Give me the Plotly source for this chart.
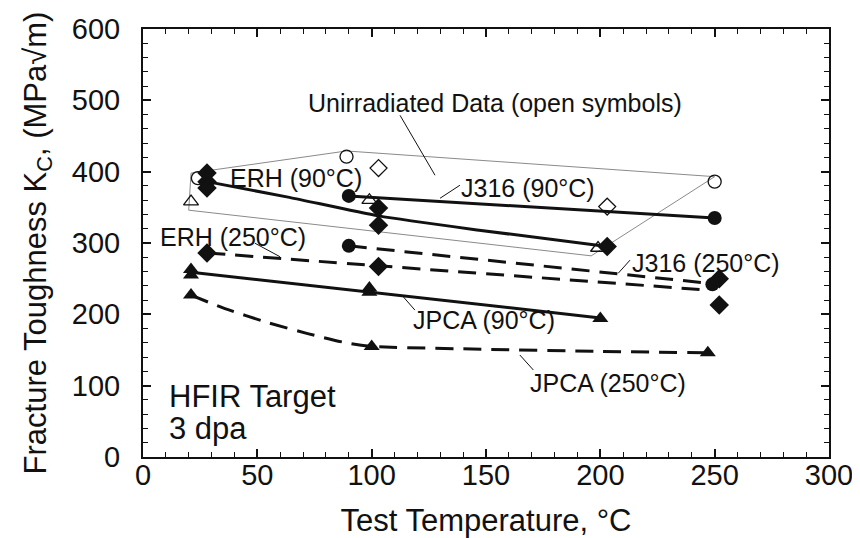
import plotly.graph_objects as go

# ---------------- data ----------------
# ERH (90 C) irradiated, filled diamonds, solid fit
erh90_x = [28, 28, 28, 103, 103, 203]
erh90_y = [398, 386, 377, 349, 325, 295]
erh90_fit_x = [28, 64, 103, 147, 203]
erh90_fit_y = [386, 364, 338, 318, 295]

# J316 (90 C) irradiated, filled circles, solid fit
j316_90_x = [90, 250]
j316_90_y = [366, 335]
j316_90_fit_x = [90, 250]
j316_90_fit_y = [366, 335]

# ERH (250 C) irradiated, filled diamonds, dashed fit
erh250_x = [28, 103, 252, 252]
erh250_y = [286, 267, 250, 213]
erh250_fit_x = [28, 103, 247]
erh250_fit_y = [286, 268, 234]

# J316 (250 C) irradiated, filled circles, dashed fit
j316_250_x = [90, 249]
j316_250_y = [296, 242]
j316_250_fit_x = [90, 249]
j316_250_fit_y = [296, 243]

# JPCA (90 C) irradiated, filled triangles, solid fit
jpca90_x = [21, 21, 99, 99, 200]
jpca90_y = [263, 255, 237, 231, 194]
jpca90_fit_x = [21, 200]
jpca90_fit_y = [259, 195]

# JPCA (250 C) irradiated, filled triangles, dashed fit
jpca250_x = [21, 100, 247]
jpca250_y = [227, 155, 146]
jpca250_fit_x = [21, 35, 55, 72, 89, 100, 150, 200, 247]
jpca250_fit_y = [227, 209, 188, 173, 160, 155, 151, 148, 146]

# Unirradiated data (open symbols)
unirr_circle_x = [24, 89, 250]
unirr_circle_y = [391, 421, 386]
unirr_diamond_x = [103, 203]
unirr_diamond_y = [405, 351]
unirr_triangle_x = [21, 99, 199]
unirr_triangle_y = [358, 360, 293]

# Envelope around unirradiated data
env_x = [21, 89, 250, 196, 20, 21]
env_y = [398, 429, 393, 282, 346, 398]

x_ticks = [0, 50, 100, 150, 200, 250, 300]
y_ticks = [0, 100, 200, 300, 400, 500, 600]

# ---------------- figure ----------------
FONT = "Liberation Sans, Arial, Helvetica, sans-serif"
INK = "#111111"
DASH = "18px,10px"

fig = go.Figure()

# envelope
fig.add_trace(go.Scatter(x=env_x, y=env_y, mode="lines",
                         line=dict(color="#8a8a8a", width=1), hoverinfo="skip"))

def fit(x, y, dash="solid"):
    fig.add_trace(go.Scatter(x=x, y=y, mode="lines",
                             line=dict(color=INK, width=3, dash=dash, shape="spline", smoothing=0.6),
                             hoverinfo="skip"))

def pts(x, y, symbol, size, open_=False):
    if open_:
        m = dict(symbol=symbol, size=size, color=INK, line=dict(color=INK, width=1.3))
    else:
        m = dict(symbol=symbol, size=size, color=INK, line=dict(color=INK, width=0))
    fig.add_trace(go.Scatter(x=x, y=y, mode="markers", marker=m))

fit(erh90_fit_x, erh90_fit_y)
fit(j316_90_fit_x, j316_90_fit_y)
fit(erh250_fit_x, erh250_fit_y, DASH)
fit(j316_250_fit_x, j316_250_fit_y, DASH)
fit(jpca90_fit_x, jpca90_fit_y)
fit(jpca250_fit_x, jpca250_fit_y, DASH)

pts(unirr_circle_x, unirr_circle_y, "circle-open", 13, True)
pts(unirr_diamond_x, unirr_diamond_y, "diamond-open", 13, True)
pts(unirr_triangle_x, unirr_triangle_y, "triangle-up-open", 13, True)

pts(erh90_x, erh90_y, "diamond", 15)
pts(erh250_x, erh250_y, "diamond", 15)
pts(j316_90_x, j316_90_y, "circle", 14)
pts(j316_250_x, j316_250_y, "circle", 14)
pts(jpca90_x, jpca90_y, "triangle-up", 14)
pts(jpca250_x, jpca250_y, "triangle-up", 14)

# labels
labels = [
    ("ERH (90°C)", 66.9, 390.7),
    ("J316 (90°C)", 168.3, 377),
    ("ERH (250°C)", 39.4, 308.8),
    ("J316 (250°C)", 246.3, 271.6),
    ("JPCA (90°C)", 149.1, 192),
    ("JPCA (250°C)", 203.3, 103.3),
    ("Unirradiated Data (open symbols)", 154, 496),
]
for t, x, y in labels:
    fig.add_annotation(x=x, y=y, text=t, showarrow=False, xanchor="center", yanchor="middle",
                       font=dict(family=FONT, size=25, color=INK))

fig.add_annotation(x=10.3, y=84.5, text="HFIR Target", showarrow=False, xanchor="left",
                   yanchor="middle", font=dict(family=FONT, size=31, color=INK))
fig.add_annotation(x=10.3, y=40, text="3 dpa", showarrow=False, xanchor="left",
                   yanchor="middle", font=dict(family=FONT, size=31, color=INK))

leaders = [
    (112.4, 479, 127.7, 395),
    (138.6, 381, 129.9, 362.7),
    (49, 299.6, 59.9, 280.8),
    (213, 276, 207.8, 257.5),
    (118.9, 206, 113.8, 224.7),
    (170.7, 122, 164.8, 143),
]
for x0, y0, x1, y1 in leaders:
    fig.add_shape(type="line", xref="x", yref="y", x0=x0, y0=y0, x1=x1, y1=y1,
                  line=dict(color=INK, width=1))

axis_common = dict(
    showgrid=False, zeroline=False, showline=True, linecolor=INK, linewidth=2,
    mirror="ticks", ticks="inside", tickcolor=INK, tickwidth=1.5, ticklen=8,
    tickfont=dict(family=FONT, size=29, color=INK), automargin=False,
    ticklabeloverflow="allow",
)

fig.update_xaxes(range=[0, 300], tickvals=x_ticks, ticktext=[str(v) for v in x_ticks],
                 minor=dict(dtick=10, ticks="inside", ticklen=5, tickcolor=INK, tickwidth=1.2),
                 title=dict(text="Test Temperature, °C", font=dict(family=FONT, size=31, color=INK),
                            standoff=22),
                 ticklabelstandoff=-9,
                 **axis_common)
fig.update_yaxes(range=[0, 600], tickvals=y_ticks, ticktext=[str(v) for v in y_ticks],
                 minor=dict(dtick=20, ticks="inside", ticklen=5, tickcolor=INK, tickwidth=1.2),
                 title=dict(text="Fracture Toughness K<sub>C</sub>, (MPa√m)",
                            font=dict(family=FONT, size=31, color=INK), standoff=16),
                 ticklabelstandoff=15,
                 **axis_common)

# the page body adds an 8px margin, so the figure is offset to land where the reference plot is
fig.update_layout(
    width=852, height=530,
    margin=dict(l=135, r=31, t=21, b=81),
    paper_bgcolor="white", plot_bgcolor="white",
    showlegend=False,
)

fig.write_html("out.html")
